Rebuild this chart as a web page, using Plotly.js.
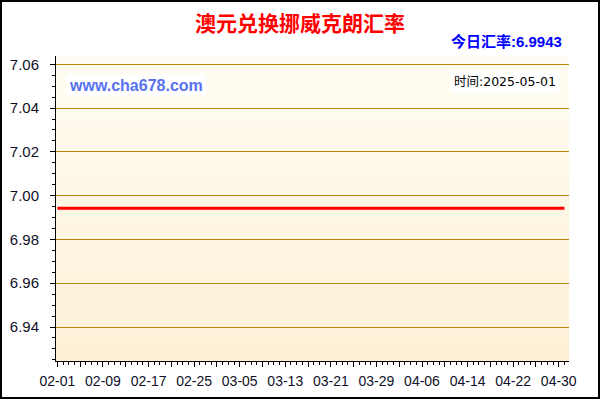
<!DOCTYPE html>
<html>
<head>
<meta charset="utf-8">
<script src="https://cdn.plot.ly/plotly-3.0.1.min.js"></script>
<style>
  html, body { margin: 0; padding: 0; background: #fff; }
  #wrap { position: relative; width: 600px; height: 400px; }
  #chart { width: 600px; height: 400px; }
  #frame { position: absolute; left: 0; top: 0; width: 600px; height: 399px; box-sizing: border-box; border: 2px solid #000; pointer-events: none; }
</style>
</head>
<body>
<div id="wrap"><div id="chart"></div><div id="frame"></div></div>
<script>
// ---- data ----
var chartTitle = '澳元兑换挪威克朗汇率';
var todayLabel = '今日汇率:6.9943';
var siteLabel = 'www.cha678.com';
var timeLabel = '时间:2025-05-01';

var dates = [
  '2025-02-01','2025-02-02','2025-02-03','2025-02-04','2025-02-05','2025-02-06','2025-02-07',
  '2025-02-08','2025-02-09','2025-02-10','2025-02-11','2025-02-12','2025-02-13','2025-02-14',
  '2025-02-15','2025-02-16','2025-02-17','2025-02-18','2025-02-19','2025-02-20','2025-02-21',
  '2025-02-22','2025-02-23','2025-02-24','2025-02-25','2025-02-26','2025-02-27','2025-02-28',
  '2025-03-01','2025-03-02','2025-03-03','2025-03-04','2025-03-05','2025-03-06','2025-03-07',
  '2025-03-08','2025-03-09','2025-03-10','2025-03-11','2025-03-12','2025-03-13','2025-03-14',
  '2025-03-15','2025-03-16','2025-03-17','2025-03-18','2025-03-19','2025-03-20','2025-03-21',
  '2025-03-22','2025-03-23','2025-03-24','2025-03-25','2025-03-26','2025-03-27','2025-03-28',
  '2025-03-29','2025-03-30','2025-03-31','2025-04-01','2025-04-02','2025-04-03','2025-04-04',
  '2025-04-05','2025-04-06','2025-04-07','2025-04-08','2025-04-09','2025-04-10','2025-04-11',
  '2025-04-12','2025-04-13','2025-04-14','2025-04-15','2025-04-16','2025-04-17','2025-04-18',
  '2025-04-19','2025-04-20','2025-04-21','2025-04-22','2025-04-23','2025-04-24','2025-04-25',
  '2025-04-26','2025-04-27','2025-04-28','2025-04-29','2025-04-30','2025-05-01'
];
var rates = [
  6.9943,6.9943,6.9943,6.9943,6.9943,6.9943,6.9943,
  6.9943,6.9943,6.9943,6.9943,6.9943,6.9943,6.9943,
  6.9943,6.9943,6.9943,6.9943,6.9943,6.9943,6.9943,
  6.9943,6.9943,6.9943,6.9943,6.9943,6.9943,6.9943,
  6.9943,6.9943,6.9943,6.9943,6.9943,6.9943,6.9943,
  6.9943,6.9943,6.9943,6.9943,6.9943,6.9943,6.9943,
  6.9943,6.9943,6.9943,6.9943,6.9943,6.9943,6.9943,
  6.9943,6.9943,6.9943,6.9943,6.9943,6.9943,6.9943,
  6.9943,6.9943,6.9943,6.9943,6.9943,6.9943,6.9943,
  6.9943,6.9943,6.9943,6.9943,6.9943,6.9943,6.9943,
  6.9943,6.9943,6.9943,6.9943,6.9943,6.9943,6.9943,
  6.9943,6.9943,6.9943,6.9943,6.9943,6.9943,6.9943,
  6.9943,6.9943,6.9943,6.9943,6.9943,6.9943
];

var xTickVals = [
  '2025-02-01','2025-02-05','2025-02-09','2025-02-13','2025-02-17','2025-02-21',
  '2025-02-25','2025-03-01','2025-03-05','2025-03-09','2025-03-13','2025-03-17',
  '2025-03-21','2025-03-25','2025-03-29','2025-04-02','2025-04-06','2025-04-10',
  '2025-04-14','2025-04-18','2025-04-22','2025-04-26','2025-04-30'
];
var xTickText = [
  '02-01','','02-09','','02-17','',
  '02-25','','03-05','','03-13','',
  '03-21','','03-29','','04-06','',
  '04-14','','04-22','','04-30'
];
var yTickVals = [6.94, 6.96, 6.98, 7.00, 7.02, 7.04, 7.06];
var yTickText = ['6.94', '6.96', '6.98', '7.00', '7.02', '7.04', '7.06'];

// ---- styling ----
var xRange = ['2025-01-31 18:06', '2025-05-01 19:12'];
var yRange = [6.92447, 7.0638];

var gradSvg = '<svg xmlns="http://www.w3.org/2000/svg" width="100" height="100" preserveAspectRatio="none">' +
  '<defs><linearGradient id="g" x1="0" y1="0" x2="0" y2="1">' +
  '<stop offset="0" stop-color="#fffdf3"/><stop offset="1" stop-color="#fdf0d6"/>' +
  '</linearGradient></defs><rect width="100" height="100" fill="url(#g)"/></svg>';
var gradUri = 'data:image/svg+xml;charset=utf-8,' + encodeURIComponent(gradSvg);

var tickFont = {family: 'Liberation Sans, Arial, sans-serif', size: 14, color: '#101028'};

var trace = {
  x: dates,
  y: rates,
  type: 'scatter',
  mode: 'lines',
  line: {color: '#ff0000', width: 3},
  hoverinfo: 'skip',
  showlegend: false
};

var layout = {
  width: 600,
  height: 400,
  margin: {l: 56, r: 31, t: 56, b: 39, pad: 0},
  paper_bgcolor: '#ffffff',
  plot_bgcolor: 'rgba(0,0,0,0)',
  showlegend: false,
  title: {
    text: chartTitle,
    x: 0.5, xref: 'container', xanchor: 'center',
    y: 1 - 24 / 400, yref: 'container', yanchor: 'middle',
    font: {family: 'Noto Sans CJK SC, sans-serif', size: 21, color: '#ff0000', weight: 'bold'}
  },
  xaxis: {
    type: 'date',
    range: xRange,
    tickmode: 'array',
    tickvals: xTickVals,
    ticktext: xTickText,
    ticks: 'outside', ticklen: 5, tickwidth: 1, tickcolor: '#000',
    minor: {tickmode: 'linear', tick0: '2025-02-01', dtick: 86400000, ticks: 'outside', ticklen: 3, tickcolor: '#000', showgrid: false},
    showline: true, linecolor: '#000', linewidth: 1,
    showgrid: false, zeroline: false,
    tickfont: tickFont,
    ticklabelstandoff: 2,
    fixedrange: true
  },
  xaxis2: {
    type: 'date',
    overlaying: 'x', side: 'top', anchor: 'y',
    range: xRange,
    tickmode: 'array',
    tickvals: xTickVals,
    ticks: 'inside', ticklen: 4, tickcolor: '#000',
    minor: {tickmode: 'linear', tick0: '2025-02-01', dtick: 86400000, ticks: 'inside', ticklen: 3, tickcolor: '#000', showgrid: false},
    showticklabels: false,
    showline: true, linecolor: '#000', linewidth: 1,
    showgrid: false, zeroline: false,
    fixedrange: true
  },
  yaxis: {
    range: yRange,
    tickmode: 'array',
    tickvals: yTickVals,
    ticktext: yTickText,
    ticks: 'outside', ticklen: 5, tickwidth: 1, tickcolor: '#000',
    minor: {tickmode: 'linear', tick0: 6.94, dtick: 0.005, ticks: 'outside', ticklen: 3, tickcolor: '#000', showgrid: false},
    showline: true, linecolor: '#000', linewidth: 1,
    showgrid: true, gridcolor: '#b8860b', gridwidth: 1,
    zeroline: false,
    tickfont: {family: 'Liberation Sans, Arial, sans-serif', size: 15, color: '#101028'},
    ticklabelstandoff: 8,
    fixedrange: true
  },
  yaxis2: {
    overlaying: 'y', side: 'right', anchor: 'x',
    range: yRange,
    tickmode: 'array',
    tickvals: yTickVals,
    ticks: 'inside', ticklen: 3, tickcolor: '#000',
    minor: {tickmode: 'linear', tick0: 6.94, dtick: 0.005, ticks: 'inside', ticklen: 3, tickcolor: '#000', showgrid: false},
    showticklabels: false,
    showline: true, linecolor: '#000', linewidth: 1,
    showgrid: false, zeroline: false,
    fixedrange: true
  },
  images: [{
    source: gradUri,
    xref: 'paper', yref: 'paper',
    x: 0, y: 1, sizex: 1, sizey: 1,
    xanchor: 'left', yanchor: 'top',
    sizing: 'stretch', layer: 'below'
  }],
  annotations: [
    {
      text: todayLabel,
      xref: 'paper', yref: 'paper',
      x: (563.5 - 56) / 513, y: (361 - 42) / 305,
      xanchor: 'right', yanchor: 'middle',
      showarrow: false,
      font: {family: 'Liberation Sans, Noto Sans CJK SC, sans-serif', size: 15, color: '#0000ff', weight: 'bold'}
    },
    {
      text: siteLabel,
      xref: 'paper', yref: 'paper',
      x: (66 - 56) / 513, y: (361 - 85) / 305,
      xanchor: 'left', yanchor: 'middle',
      showarrow: false,
      bgcolor: '#ffffff', borderpad: 2,
      font: {family: 'Liberation Sans Narrow, Liberation Sans, Arial, sans-serif', size: 16, color: '#5872f0', weight: 'bold'}
    },
    {
      text: timeLabel,
      xref: 'paper', yref: 'paper',
      x: (560 - 56) / 513, y: (361 - 81.5) / 305,
      xanchor: 'right', yanchor: 'middle',
      showarrow: false,
      bgcolor: '#ffffff', borderpad: 3,
      font: {family: 'DejaVu Sans, Noto Sans CJK SC, sans-serif', size: 12.5, color: '#000'}
    }
  ]
};

Plotly.newPlot('chart', [trace], layout, {displayModeBar: false, staticPlot: true});
</script>
</body>
</html>
